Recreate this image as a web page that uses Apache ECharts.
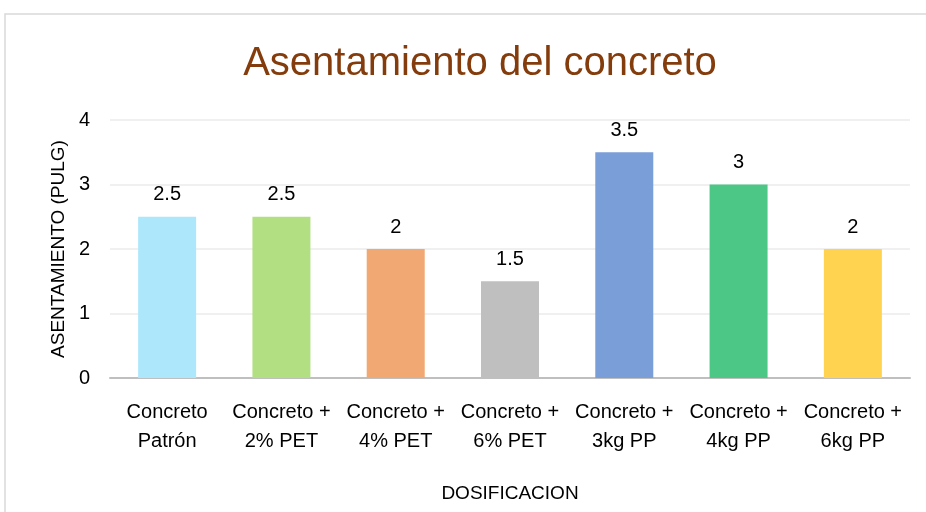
<!DOCTYPE html>
<html><head><meta charset="utf-8">
<script src="https://cdn.jsdelivr.net/npm/echarts@6/dist/echarts.min.js"></script>
<style>html,body{margin:0;padding:0;background:#fff}#c{width:926px;height:512px}</style>
</head><body><div id="c"></div>
<script>
var categories = ['Concreto\nPatrón','Concreto +\n2% PET','Concreto +\n4% PET','Concreto +\n6% PET','Concreto +\n3kg PP','Concreto +\n4kg PP','Concreto +\n6kg PP'];
var values = [2.5, 2.5, 2, 1.5, 3.5, 3, 2];
var barColors = ['#ADE7FB','#B2DF82','#F1A873','#BFBFBF','#7A9ED8','#4DC786','#FFD34F'];
var yTicks = [0,1,2,3,4];
var FONT = 'Liberation Sans';
var chart = echarts.init(document.getElementById('c'));
chart.setOption({
  animation:false,
  graphic:[{type:'rect',shape:{x:5,y:14,width:940,height:520},style:{fill:'none',stroke:'#D9D9D9',lineWidth:1.5},silent:true}],
  title:{text:'Asentamiento del concreto',left:475,top:39,textAlign:'center',textStyle:{fontFamily:FONT,fontSize:40,fontWeight:'normal',color:'#843C0C'}},
  grid:{left:110,right:16,top:120,bottom:134},
  xAxis:{type:'category',data:categories,
    axisLine:{lineStyle:{color:'#BFBFBF',width:2}},axisTick:{show:false},
    axisLabel:{fontFamily:FONT,fontSize:20,color:'#000',margin:20,lineHeight:29,interval:0},
    name:'DOSIFICACION',nameLocation:'middle',nameGap:106,nameTextStyle:{fontFamily:FONT,fontSize:19,color:'#000'}},
  yAxis:{type:'value',min:0,max:4,interval:1,
    axisLine:{show:false},axisTick:{show:false},
    splitLine:{lineStyle:{color:'#EBEBEB',width:1.5}},
    axisLabel:{fontFamily:FONT,fontSize:20,color:'#000',margin:20,formatter:function(v){return yTicks.indexOf(v)>=0?String(v):'';}},
    name:'ASENTAMIENTO (PULG)',nameLocation:'middle',nameGap:42,nameRotate:90,nameTextStyle:{fontFamily:FONT,fontSize:19,color:'#000'}},
  series:[{type:'bar',barWidth:58,
    data:values.map(function(v,i){return {value:v,itemStyle:{color:barColors[i]}};}),
    label:{show:true,position:'top',distance:12,fontFamily:FONT,fontSize:20,color:'#000'}}]
});
</script></body></html>
